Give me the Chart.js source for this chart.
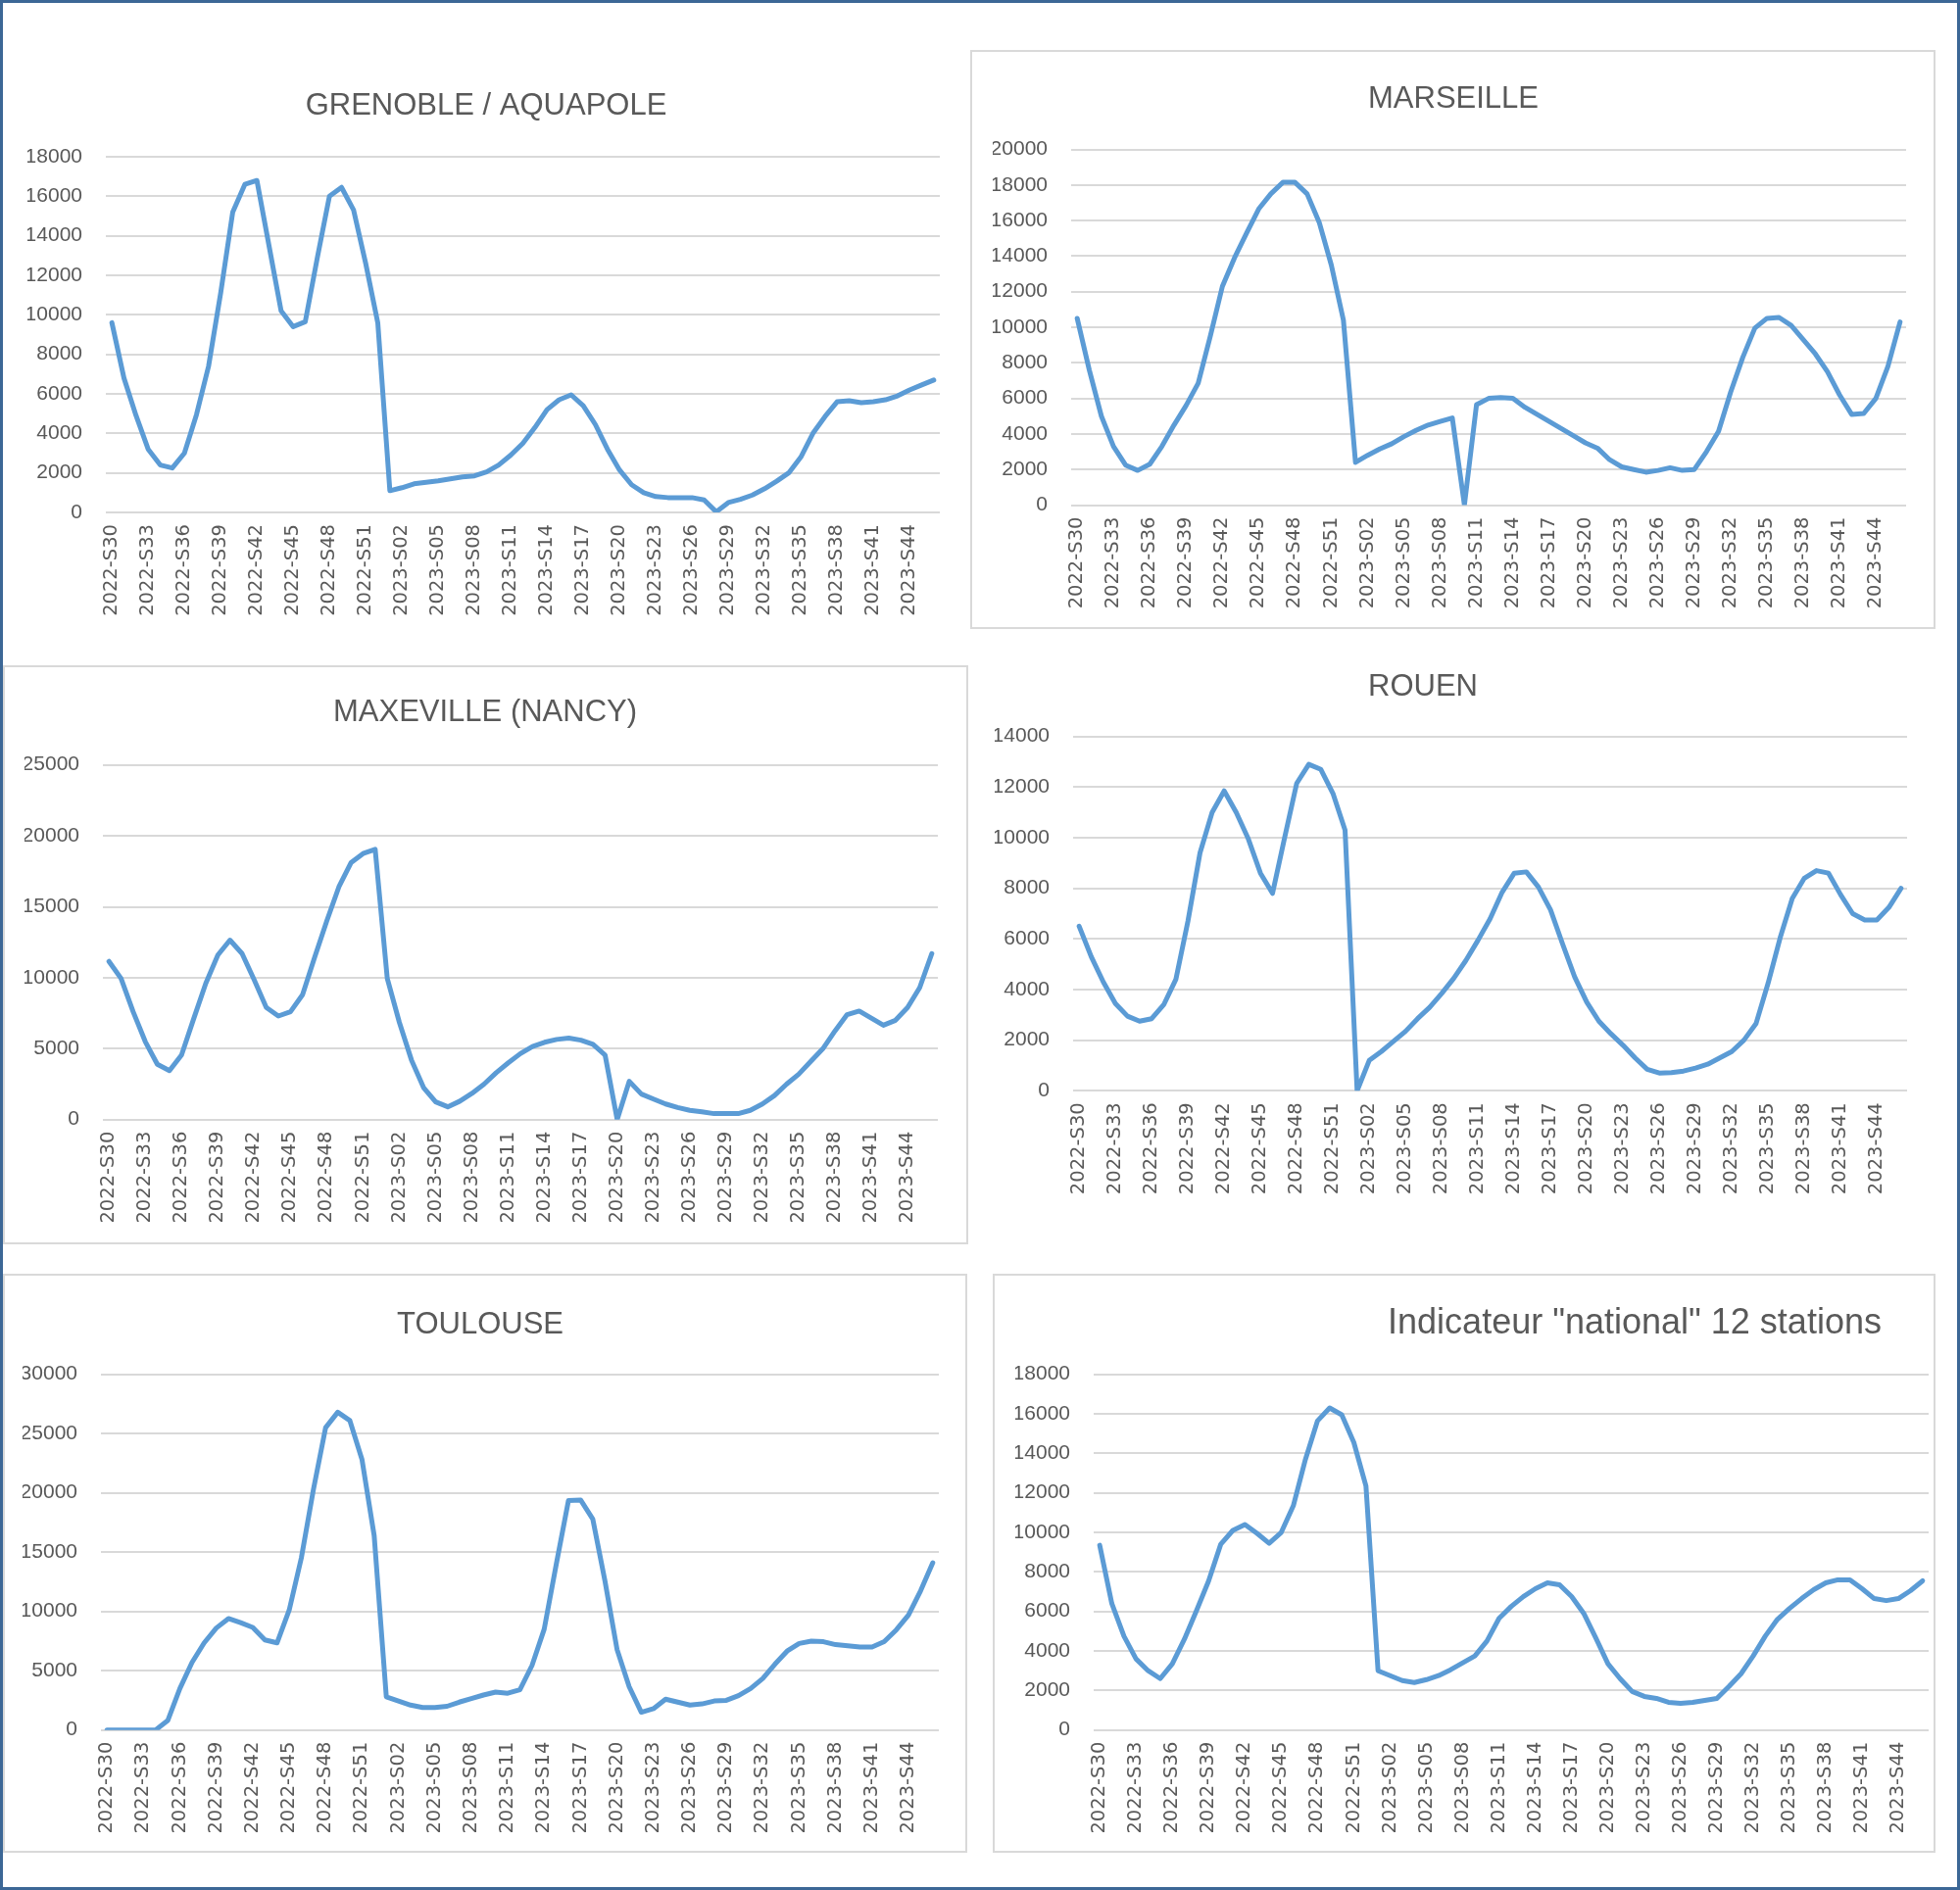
<!DOCTYPE html>
<html>
<head>
<meta charset="utf-8">
<script src="https://cdn.jsdelivr.net/npm/chart.js@4.4.0/dist/chart.umd.min.js"></script>
<style>
  body { margin: 0; background: #fff; }
  #frame { position: relative; width: 2000px; height: 1929px; background: #fff; overflow: hidden; }
  #outline { position: absolute; left: 0; top: 0; width: 2000px; height: 1929px; box-sizing: border-box; border: 3px solid #3c6796; pointer-events: none; }
  .panel { position: absolute; box-sizing: border-box; border: 2px solid #d9d9d9; }
  canvas { position: absolute; }
</style>
</head>
<body>
<div id="frame">
  <div class="panel" style="left:990px;top:51px;width:985px;height:591px"></div>
  <div class="panel" style="left:3px;top:679px;width:985px;height:591px"></div>
  <div class="panel" style="left:3px;top:1300px;width:984px;height:591px"></div>
  <div class="panel" style="left:1013px;top:1300px;width:962px;height:591px"></div>
  <canvas id="grenoble"></canvas>
  <canvas id="marseille"></canvas>
  <canvas id="maxeville"></canvas>
  <canvas id="rouen"></canvas>
  <canvas id="toulouse"></canvas>
  <canvas id="national"></canvas>
  <div id="outline"></div>
</div>
<script>
// weeks on the x axis
var weeks = [
  '2022-S30','2022-S31','2022-S32','2022-S33','2022-S34','2022-S35','2022-S36','2022-S37','2022-S38','2022-S39',
  '2022-S40','2022-S41','2022-S42','2022-S43','2022-S44','2022-S45','2022-S46','2022-S47','2022-S48','2022-S49',
  '2022-S50','2022-S51','2022-S52',
  '2023-S01','2023-S02','2023-S03','2023-S04','2023-S05','2023-S06','2023-S07','2023-S08','2023-S09','2023-S10',
  '2023-S11','2023-S12','2023-S13','2023-S14','2023-S15','2023-S16','2023-S17','2023-S18','2023-S19','2023-S20',
  '2023-S21','2023-S22','2023-S23','2023-S24','2023-S25','2023-S26','2023-S27','2023-S28','2023-S29','2023-S30',
  '2023-S31','2023-S32','2023-S33','2023-S34','2023-S35','2023-S36','2023-S37','2023-S38','2023-S39','2023-S40',
  '2023-S41','2023-S42','2023-S43','2023-S44','2023-S45','2023-S46'
];

// only every third week gets a label
var shownWeeks = [
  '2022-S30','2022-S33','2022-S36','2022-S39','2022-S42','2022-S45','2022-S48','2022-S51',
  '2023-S02','2023-S05','2023-S08','2023-S11','2023-S14','2023-S17','2023-S20','2023-S23',
  '2023-S26','2023-S29','2023-S32','2023-S35','2023-S38','2023-S41','2023-S44'
];

var grenoble = [9600, 6800, 4900, 3200, 2400, 2250, 3000, 4950, 7400, 11100,
  15200, 16600, 16800, 13500, 10200, 9400, 9650, 12900, 16000, 16450,
  15300, 12600, 9600, 1100, 1250, 1450, 1520, 1600, 1700, 1800,
  1850, 2050, 2400, 2900, 3500, 4300, 5200, 5700, 5950, 5400,
  4450, 3200, 2150, 1400, 1000, 800, 750, 750, 750, 630,
  30, 500, 660, 880, 1200, 1580, 2000, 2800, 4000, 4850,
  5600, 5650, 5550, 5600, 5700, 5900, 6200, 6450, 6700];

var marseille = [10500, 7600, 5000, 3300, 2250, 1950, 2300, 3300, 4500, 5600,
  6850, 9500, 12300, 13900, 15300, 16650, 17500, 18150, 18150, 17500,
  15900, 13500, 10400, 2400, 2800, 3150, 3450, 3850, 4200, 4500,
  4700, 4900, 0, 5650, 6000, 6050, 6000, 5500, 5100, 4700,
  4300, 3900, 3500, 3200, 2550, 2150, 2000, 1850, 1950, 2100,
  1950, 2000, 3000, 4150, 6350, 8300, 9950, 10500, 10550, 10100,
  9300, 8500, 7500, 6200, 5100, 5150, 6000, 7800, 10300];

var maxeville = [11150, 9950, 7600, 5500, 3900, 3450, 4550, 7100, 9600, 11600,
  12650, 11700, 9850, 7900, 7300, 7600, 8800, 11450, 14000, 16400,
  18100, 18750, 19050, 9950, 6850, 4200, 2250, 1250, 900, 1300,
  1850, 2500, 3300, 4000, 4650, 5150, 5450, 5650, 5750, 5600,
  5300, 4550, 0, 2700, 1800, 1450, 1100, 850, 650, 550,
  420, 420, 420, 650, 1100, 1700, 2500, 3200, 4100, 5000,
  6250, 7400, 7650, 7150, 6650, 7000, 7900, 9300, 11700];

var rouen = [6500, 5300, 4300, 3450, 2950, 2750, 2850, 3400, 4400, 6700,
  9400, 11000, 11850, 11000, 9950, 8600, 7800, 10000, 12150, 12900,
  12700, 11750, 10300, 0, 1200, 1550, 1950, 2350, 2850, 3300,
  3850, 4450, 5150, 5950, 6800, 7850, 8600, 8650, 8050, 7150,
  5800, 4500, 3500, 2750, 2250, 1800, 1300, 850, 700, 720,
  780, 900, 1050, 1300, 1550, 2000, 2650, 4250, 6050, 7600,
  8400, 8700, 8600, 7750, 7000, 6750, 6750, 7250, 8000];

var toulouse = [0, 0, 0, 0, 0, 800, 3500, 5700, 7350, 8600,
  9400, 9050, 8650, 7600, 7350, 10100, 14500, 20300, 25500, 26800,
  26100, 22800, 16400, 2800, 2450, 2100, 1900, 1900, 2000, 2350,
  2650, 2950, 3200, 3100, 3400, 5450, 8500, 14000, 19350, 19400,
  17800, 12600, 6800, 3650, 1500, 1800, 2600, 2350, 2100, 2200,
  2450, 2500, 2900, 3500, 4350, 5550, 6650, 7300, 7500, 7450,
  7200, 7100, 7000, 7000, 7450, 8450, 9700, 11750, 14100];

var national = [9350, 6400, 4750, 3600, 3000, 2600, 3350, 4600, 6050, 7550,
  9400, 10100, 10400, 9950, 9450, 10000, 11350, 13700, 15650, 16300,
  15950, 14550, 12350, 3000, 2750, 2500, 2400, 2550, 2750, 3050,
  3400, 3750, 4500, 5650, 6250, 6750, 7150, 7450, 7350, 6750,
  5900, 4650, 3350, 2600, 1950, 1700, 1600, 1400, 1350, 1400,
  1500, 1600, 2200, 2850, 3750, 4750, 5600, 6150, 6650, 7100,
  7450, 7600, 7600, 7150, 6650, 6550, 6650, 7050, 7550];

// y axis ticks of each chart
var grenobleTicks = [0, 2000, 4000, 6000, 8000, 10000, 12000, 14000, 16000, 18000];
var marseilleTicks = [0, 2000, 4000, 6000, 8000, 10000, 12000, 14000, 16000, 18000, 20000];
var maxevilleTicks = [0, 5000, 10000, 15000, 20000, 25000];
var rouenTicks = [0, 2000, 4000, 6000, 8000, 10000, 12000, 14000];
var toulouseTicks = [0, 5000, 10000, 15000, 20000, 25000, 30000];
var nationalTicks = [0, 2000, 4000, 6000, 8000, 10000, 12000, 14000, 16000, 18000];

var LINE = '#5b9bd5';
var TEXT = '#595959';
var GRID = '#d9d9d9';
var YAXIS_W = 80;
var XAXIS_H = 120;

// draws the chart title at a fixed spot of the canvas
var panelTitle = {
  id: 'panelTitle',
  afterDraw: function (chart, args, opts) {
    var c = chart.ctx;
    c.save();
    c.font = opts.size + 'px "Liberation Sans", Arial, sans-serif';
    c.fillStyle = TEXT;
    c.textAlign = 'center';
    c.textBaseline = 'alphabetic';
    c.fillText(opts.text, opts.x, opts.y);
    c.restore();
  }
};

// box: canvas on the page, plot: grid area on the page, title: text + baseline point on the page
function drawPanel(id, box, plot, title, values, ticks) {
  var el = document.getElementById(id);
  el.width = box.width;
  el.height = box.height;
  el.style.left = box.left + 'px';
  el.style.top = box.top + 'px';

  return new Chart(el.getContext('2d'), {
    type: 'line',
    data: {
      labels: weeks,
      datasets: [{
        data: values,
        borderColor: LINE,
        borderWidth: 5,
        pointRadius: 0,
        tension: 0,
        fill: false,
        borderJoinStyle: 'round',
        borderCapStyle: 'round'
      }]
    },
    options: {
      responsive: false,
      animation: false,
      events: [],
      layout: {
        padding: {
          left: plot.left - box.left - YAXIS_W,
          right: box.left + box.width - plot.right,
          top: plot.top - box.top,
          bottom: box.top + box.height - plot.bottom - XAXIS_H
        }
      },
      plugins: {
        legend: { display: false },
        tooltip: { enabled: false },
        panelTitle: {
          text: title.text,
          size: title.size,
          x: title.x - box.left,
          y: title.y - box.top
        }
      },
      scales: {
        x: {
          type: 'category',
          offset: true,
          grid: { display: false, drawTicks: false },
          border: { display: false },
          ticks: {
            autoSkip: false,
            minRotation: 90,
            maxRotation: 90,
            padding: 12,
            color: TEXT,
            font: { family: '"DejaVu Sans", sans-serif', size: 19.5 },
            callback: function (v, i) {
              return shownWeeks.indexOf(weeks[i]) >= 0 ? weeks[i] : null;
            }
          },
          afterFit: function (s) { s.height = XAXIS_H; }
        },
        y: {
          min: ticks[0],
          max: ticks[ticks.length - 1],
          grid: { color: GRID, lineWidth: 2, drawTicks: false },
          border: { display: false },
          ticks: {
            stepSize: ticks[1] - ticks[0],
            padding: 24,
            color: TEXT,
            font: { family: '"Liberation Sans", Arial, sans-serif', size: 21 },
            callback: function (v) { return String(v); }
          },
          afterFit: function (s) { s.width = YAXIS_W; }
        }
      }
    },
    plugins: [panelTitle]
  });
}

drawPanel('grenoble',
  { left: 3, top: 3, width: 984, height: 670 },
  { left: 108, right: 959, top: 160, bottom: 523 },
  { text: 'GRENOBLE / AQUAPOLE', x: 496, y: 117, size: 31 },
  grenoble, grenobleTicks);

drawPanel('marseille',
  { left: 992, top: 53, width: 981, height: 587 },
  { left: 1093, right: 1945, top: 152.5, bottom: 515.5 },
  { text: 'MARSEILLE', x: 1483, y: 110, size: 31 },
  marseille, marseilleTicks);

drawPanel('maxeville',
  { left: 5, top: 681, width: 981, height: 587 },
  { left: 105, right: 957, top: 780.7, bottom: 1142.7 },
  { text: 'MAXEVILLE (NANCY)', x: 495, y: 736, size: 31 },
  maxeville, maxevilleTicks);

drawPanel('rouen',
  { left: 990, top: 650, width: 990, height: 630 },
  { left: 1095, right: 1946, top: 751.7, bottom: 1113.3 },
  { text: 'ROUEN', x: 1452, y: 710, size: 31 },
  rouen, rouenTicks);

drawPanel('toulouse',
  { left: 5, top: 1302, width: 980, height: 587 },
  { left: 103, right: 958, top: 1402.7, bottom: 1765.7 },
  { text: 'TOULOUSE', x: 490, y: 1361, size: 31 },
  toulouse, toulouseTicks);

drawPanel('national',
  { left: 1015, top: 1302, width: 958, height: 587 },
  { left: 1116, right: 1968, top: 1402.7, bottom: 1765.7 },
  { text: 'Indicateur "national" 12 stations', x: 1668, y: 1361, size: 36 },
  national, nationalTicks);
</script>
</body>
</html>
